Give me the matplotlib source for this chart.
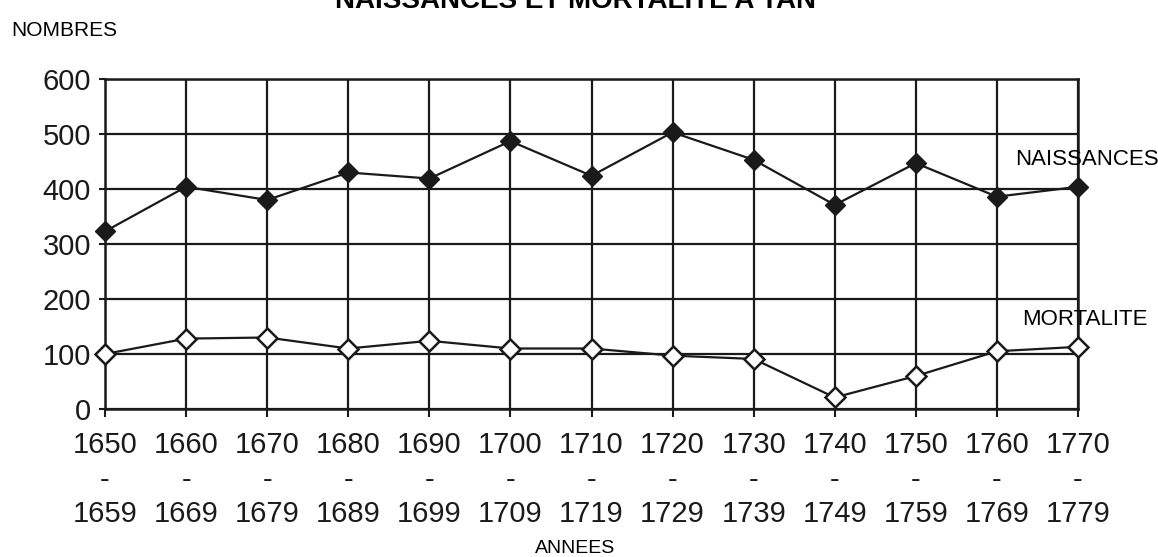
import matplotlib.pyplot as plt

# ------------------------------
# Données
annees = [1650, 1660, 1670, 1680, 1690, 1700, 1710, 1720, 1730, 1740, 1750, 1760, 1770]
naissances = [323, 404, 380, 430, 419, 487, 424, 503, 453, 371, 447, 386, 404]
mortalite = [100, 128, 130, 110, 124, 110, 110, 97, 91, 21, 60, 105, 113]
etiquettes = [f"{a}\n-\n{a + 9}" for a in annees]
y_ticks = [0, 100, 200, 300, 400, 500, 600]

plt.rcParams['font.family'] = ['Liberation Sans', 'DejaVu Sans']

fig = plt.figure(figsize=(11.58, 5.57), dpi=100)
ax = fig.add_axes([0.0907, 0.2657, 0.8402, 0.5925])

ax.plot(annees, naissances, color='#1a1a1a', lw=1.6, marker='D', ms=10,
        mfc='#1a1a1a', mec='#1a1a1a', zorder=3, clip_on=False)
ax.plot(annees, mortalite, color='#1a1a1a', lw=1.6, marker='D', ms=10,
        mfc='white', mec='#1a1a1a', mew=1.8, zorder=3, clip_on=False)

ax.set_xlim(1650, 1770)
ax.set_ylim(0, 600)
ax.set_xticks(annees)
ax.set_xticklabels(etiquettes, fontsize=21, linespacing=1.3)
ax.set_yticks(y_ticks)
ax.set_yticklabels([str(v) for v in y_ticks], fontsize=21)
ax.grid(True, color='#1a1a1a', lw=1.6)
for s in ax.spines.values():
    s.set_linewidth(1.8)
    s.set_color('#1a1a1a')
ax.tick_params(axis='x', direction='out', length=6, width=1.5, pad=10, colors='#1a1a1a')
ax.tick_params(axis='y', direction='out', length=4, width=1.5, pad=6, colors='#1a1a1a')

# étiquettes des séries, au-dessus du dernier point
ax.annotate("NAISSANCES", (annees[-1], naissances[-1]), xytext=(6.5, 19.5),
            textcoords='offset points', fontsize=16, ha='center', va='center',
            annotation_clip=False)
ax.annotate("MORTALITE", (annees[-1], mortalite[-1]), xytext=(5, 19.5),
            textcoords='offset points', fontsize=16, ha='center', va='center',
            annotation_clip=False)

fig.text(0.497, 0.9856, "NAISSANCES ET MORTALITE A TAN", fontsize=20,
         fontweight='bold', ha='center', va='baseline')
fig.text(0.010, 0.945, "NOMBRES", fontsize=15, ha='left', va='center')
fig.text(0.497, 0.015, "ANNEES", fontsize=14, ha='center', va='center')

plt.savefig("out.png", dpi=100)
